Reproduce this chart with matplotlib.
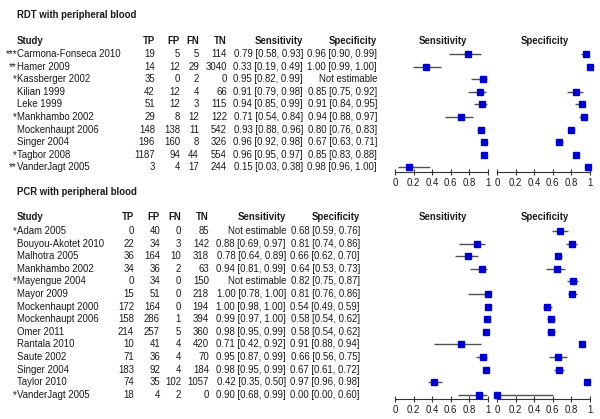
import matplotlib
matplotlib.use("Agg")
import matplotlib.pyplot as plt

plt.rcParams['font.family'] = ['Liberation Sans', 'DejaVu Sans']

# RDT with peripheral blood
rdt_star = ["***", "**", "*", "", "", "*", "", "", "*", "**"]
rdt_study = ["Carmona-Fonseca 2010", "Hamer 2009", "Kassberger 2002", "Kilian 1999",
             "Leke 1999", "Mankhambo 2002", "Mockenhaupt 2006", "Singer 2004",
             "Tagbor 2008", "VanderJagt 2005"]
rdt_tp = [19, 14, 35, 42, 51, 29, 148, 196, 1187, 3]
rdt_fp = [5, 12, 0, 12, 12, 8, 138, 160, 94, 4]
rdt_fn = [5, 29, 2, 4, 3, 12, 11, 8, 44, 17]
rdt_tn = [114, 3040, 0, 66, 115, 122, 542, 326, 554, 244]
rdt_sens = [(0.79, 0.58, 0.93), (0.33, 0.19, 0.49), (0.95, 0.82, 0.99), (0.91, 0.79, 0.98),
            (0.94, 0.85, 0.99), (0.71, 0.54, 0.84), (0.93, 0.88, 0.96), (0.96, 0.92, 0.98),
            (0.96, 0.95, 0.97), (0.15, 0.03, 0.38)]
rdt_spec = [(0.96, 0.90, 0.99), (1.00, 0.99, 1.00), None, (0.85, 0.75, 0.92),
            (0.91, 0.84, 0.95), (0.94, 0.88, 0.97), (0.80, 0.76, 0.83), (0.67, 0.63, 0.71),
            (0.85, 0.83, 0.88), (0.98, 0.96, 1.00)]

# PCR with peripheral blood
pcr_star = ["*", "", "", "", "*", "", "", "", "", "", "", "", "", "*"]
pcr_study = ["Adam 2005", "Bouyou-Akotet 2010", "Malhotra 2005", "Mankhambo 2002",
             "Mayengue 2004", "Mayor 2009", "Mockenhaupt 2000", "Mockenhaupt 2006",
             "Omer 2011", "Rantala 2010", "Saute 2002", "Singer 2004", "Taylor 2010",
             "VanderJagt 2005"]
pcr_tp = [0, 22, 36, 34, 0, 15, 172, 158, 214, 10, 71, 183, 74, 18]
pcr_fp = [40, 34, 164, 36, 34, 51, 164, 286, 257, 41, 36, 92, 35, 4]
pcr_fn = [0, 3, 10, 2, 0, 0, 0, 1, 5, 4, 4, 4, 102, 2]
pcr_tn = [85, 142, 318, 63, 150, 218, 194, 394, 360, 420, 70, 184, 1057, 0]
pcr_sens = [None, (0.88, 0.69, 0.97), (0.78, 0.64, 0.89), (0.94, 0.81, 0.99), None,
            (1.00, 0.78, 1.00), (1.00, 0.98, 1.00), (0.99, 0.97, 1.00), (0.98, 0.95, 0.99),
            (0.71, 0.42, 0.92), (0.95, 0.87, 0.99), (0.98, 0.95, 0.99), (0.42, 0.35, 0.50),
            (0.90, 0.68, 0.99)]
pcr_spec = [(0.68, 0.59, 0.76), (0.81, 0.74, 0.86), (0.66, 0.62, 0.70), (0.64, 0.53, 0.73),
            (0.82, 0.75, 0.87), (0.81, 0.76, 0.86), (0.54, 0.49, 0.59), (0.58, 0.54, 0.62),
            (0.58, 0.54, 0.62), (0.91, 0.88, 0.94), (0.66, 0.56, 0.75), (0.67, 0.61, 0.72),
            (0.97, 0.96, 0.98), (0.00, 0.00, 0.60)]

W, H = 600, 419
FS = 6.9
TXT = '#1a1a1a'
STEP = 12.6

fig = plt.figure(figsize=(W / 100, H / 100), dpi=100)
bg = fig.add_axes([0, 0, 1, 1])
bg.set_xlim(0, W)
bg.set_ylim(H, 0)
bg.axis('off')


def fmt(v):
    if v is None:
        return "Not estimable"
    return "%.2f [%.2f, %.2f]" % v


def panel(x0, x1, y_first, y_axis, vals):
    left, right = x0 - 6, x1 + 8
    top = y_first - 9
    ax = fig.add_axes([left / W, 1 - y_axis / H, (right - left) / W, (y_axis - top) / H])
    scale = x1 - x0
    ax.set_xlim((left - x0) / scale, (right - x0) / scale)
    ax.set_ylim((y_axis - y_first) / STEP, (top - y_first) / STEP)
    ax.patch.set_alpha(0)
    for s in ['top', 'left', 'right']:
        ax.spines[s].set_visible(False)
    ax.spines['bottom'].set_bounds(0, 1)
    ax.spines['bottom'].set_linewidth(0.8)
    ax.spines['bottom'].set_color('#333333')
    ax.set_yticks([])
    ax.set_xticks([0, 0.2, 0.4, 0.6, 0.8, 1])
    ax.set_xticklabels(['0', '0.2', '0.4', '0.6', '0.8', '1'])
    ax.tick_params(axis='x', direction='inout', length=5, width=0.8, color='#333333',
                   labelsize=FS, labelcolor=TXT, pad=2)
    for i, v in enumerate(vals):
        if v is None:
            continue
        est, lo, hi = v
        ax.hlines(i, lo, hi, color='#505050', lw=1, zorder=2)
        ax.plot(est, i, 's', ms=4.8, color='#0000cc', mec='#0000cc', zorder=3, clip_on=False)
    return ax


def section(title, y_title, y_head, y_first, cols, star, study, tp, fp, fn, tn, sens, spec, y_axis):
    bg.text(17, y_title, title, fontsize=FS, fontweight='bold', color=TXT, va='center')
    heads = ["TP", "FP", "FN", "TN", "Sensitivity", "Specificity"]
    bg.text(17, y_head, "Study", fontsize=FS, fontweight='bold', color=TXT, va='center')
    for x, h in zip(cols, heads):
        bg.text(x, y_head, h, fontsize=FS, fontweight='bold', color=TXT, va='center', ha='right')
    bg.text(443, y_head, "Sensitivity", fontsize=FS, fontweight='bold', color=TXT,
            va='center', ha='center')
    bg.text(545, y_head, "Specificity", fontsize=FS, fontweight='bold', color=TXT,
            va='center', ha='center')
    for i in range(len(study)):
        y = y_first + STEP * i
        if star[i]:
            bg.text(17, y, star[i], fontsize=FS, color=TXT, va='center', ha='right')
        bg.text(17, y, study[i], fontsize=FS, color=TXT, va='center')
        row = [str(tp[i]), str(fp[i]), str(fn[i]), str(tn[i]), fmt(sens[i]), fmt(spec[i])]
        for x, s in zip(cols, row):
            bg.text(x, y, s, fontsize=FS, color=TXT, va='center', ha='right')
    panel(395, 488, y_first, y_axis, sens)
    panel(497, 590, y_first, y_axis, spec)


section("RDT with peripheral blood", 15, 41, 54, [155, 180, 199, 227, 303, 377],
        rdt_star, rdt_study, rdt_tp, rdt_fp, rdt_fn, rdt_tn, rdt_sens, rdt_spec, 172)
section("PCR with peripheral blood", 192, 217, 231, [134, 160, 181, 209, 286, 360],
        pcr_star, pcr_study, pcr_tp, pcr_fp, pcr_fn, pcr_tn, pcr_sens, pcr_spec, 399)

fig.savefig("out.png", dpi=100)
